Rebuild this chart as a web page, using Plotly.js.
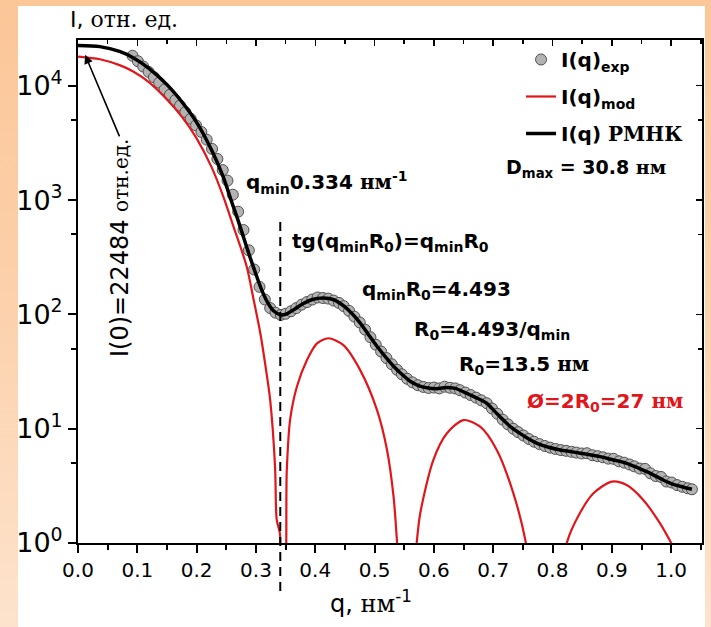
<!DOCTYPE html>
<html>
<head>
<meta charset="utf-8">
<script src="https://cdn.plot.ly/plotly-3.0.1.min.js"></script>
<style>
html,body{margin:0;padding:0;}
body{width:711px;height:627px;position:relative;overflow:hidden;
 background:linear-gradient(to bottom,#fbc698 0%,#fcd0aa 45%,#fde3cd 100%);}
#panel{position:absolute;left:18px;top:6px;width:687px;height:621px;background:#ffffff;}
#chart{position:absolute;left:0;top:0;width:711px;height:627px;}
#frame{position:absolute;left:76px;top:38px;width:628px;height:507px;box-sizing:border-box;
 border:2px solid #000;pointer-events:none;}
</style>
</head>
<body>
<div id="panel"></div>
<div id="chart"></div>
<div id="frame"></div>
<script>
// Experimental points I(q)exp
const q_exp = [0.092,0.101,0.110,0.119,0.128,0.137,0.146,0.155,0.164,0.172,0.181,0.190,0.199,0.208,0.217,0.226,0.235,0.244,0.252,0.261,0.270,0.279,0.288,0.297,0.306,0.315,0.324,0.333,0.342,0.350,0.359,0.368,0.377,0.386,0.395,0.404,0.413,0.422,0.431,0.440,0.448,0.457,0.466,0.475,0.484,0.493,0.502,0.511,0.520,0.529,0.538,0.546,0.555,0.564,0.573,0.582,0.591,0.600,0.609,0.618,0.627,0.636,0.644,0.653,0.662,0.671,0.680,0.689,0.698,0.707,0.716,0.725,0.734,0.742,0.751,0.760,0.769,0.778,0.787,0.796,0.805,0.814,0.823,0.832,0.840,0.849,0.858,0.867,0.876,0.885,0.894,0.903,0.912,0.921,0.930,0.938,0.947,0.956,0.965,0.974,0.983,0.992,1.001,1.010,1.019,1.028,1.035];
const I_exp = [18280,16370,14720,13240,11890,10640,9290,8340,7480,6700,5875,5140,4500,3945,3373,2800,2290,1828,1479,1114,791,547,363,247,174,135,113.5,103.5,98.9,101.2,106.4,113.5,121.6,128.2,134.9,140.5,139.0,137.4,132.0,125.9,118.0,107.2,95.5,84.9,73.5,63.1,54.3,47.3,41.5,36.6,32.7,29.9,27.3,25.4,24.0,23.2,22.7,22.9,22.5,23.3,22.8,22.5,21.7,20.7,19.7,18.7,17.7,16.7,15.0,13.5,12.0,10.9,9.98,9.33,8.71,8.13,7.69,7.33,7.06,6.82,6.65,6.50,6.40,6.28,6.18,6.07,6.10,5.86,5.75,5.62,5.47,5.45,5.18,5.04,4.86,4.68,4.48,4.45,4.07,3.85,3.78,3.45,3.38,3.21,3.10,3.01,2.95];

// Model curve I(q)mod (sphere)
const q_mod = [0,0.037,0.070,0.093,0.120,0.150,0.175,0.200,0.225,0.245,0.262,0.2845,0.296,0.3074,0.316,0.324,0.3322,0.335,0.3405,0.3425,0.3465,0.352,0.3575,0.369,0.386,0.403,0.422,0.447,0.4755,0.504,0.521,0.532,0.538,0.555,0.571,0.577,0.599,0.622,0.650,0.678,0.706,0.734,0.754,0.790,0.824,0.846,0.869,0.900,0.925,0.953,0.981,1.001];
const I_mod = [18000,17060,15140,13340,10720,7590,5370,3467,1950,1072,589,261,135,68.4,35.5,17.8,4.66,1.6,1.2,0.3,0.3,4.36,11.9,23.3,39.9,55.8,61.8,54.0,32.7,14.6,6.52,2.54,1.0,0.05,1.0,1.82,5.32,9.12,11.9,10.4,6.52,2.72,1.07,0.05,1.0,1.82,2.72,3.44,3.21,2.38,1.49,0.98];

// Regularised fit I(q) РМНК
const q_fit = [0,0.037,0.070,0.093,0.120,0.150,0.175,0.200,0.225,0.245,0.258,0.270,0.280,0.290,0.300,0.310,0.320,0.330,0.342,0.352,0.365,0.380,0.395,0.414,0.430,0.450,0.4755,0.490,0.504,0.518,0.532,0.546,0.560,0.575,0.588,0.605,0.622,0.636,0.650,0.670,0.689,0.703,0.717,0.731,0.745,0.760,0.774,0.795,0.813,0.830,0.847,0.865,0.880,0.900,0.925,0.945,0.965,0.985,1.000,1.020,1.035];
const I_fit = [22480,21980,19950,17580,14130,10230,7244,4786,2754,1585,1000,661,457,316,224,162,126,107,98.9,101.2,110.9,124.5,134.9,139.0,134.9,116.1,84.3,66.1,52.6,42.7,35.2,29.9,26.0,23.7,22.8,22.4,22.9,22.5,21.0,18.8,16.7,14.1,11.9,10.2,9.10,8.13,7.45,6.84,6.52,6.31,6.10,5.89,5.70,5.37,4.98,4.52,4.07,3.59,3.31,3.09,2.95];

// Axis ticks
const yTickVals = [1,10,100,1000,10000];
const yTickText = ['10<sup>0</sup>','10<sup>1</sup>','10<sup>2</sup>','10<sup>3</sup>','10<sup>4</sup>'];
const yMinorVals = [5,50,500,5000];

const SERIF = "font-family:'DejaVu Serif'";
const RED = '#e0161b';

const traces = [
  {x:q_exp, y:I_exp, type:'scatter', mode:'markers', name:'<b>I(q)<sub>exp</sub></b>', legendgroup:'a',
   marker:{symbol:'circle', size:11, color:'#b3b3b3', line:{color:'#505050', width:1}}},
  {x:q_mod, y:I_mod, type:'scatter', mode:'lines', name:'<b>I(q)<sub>mod</sub></b>', legendgroup:'b',
   line:{color:RED, width:2.2, shape:'spline', smoothing:0.8}},
  {x:q_fit, y:I_fit, type:'scatter', mode:'lines', name:'<b>I(q) <span style="'+SERIF+'">РМНК</span></b>', legendgroup:'c',
   line:{color:'#000', width:3.5, shape:'spline', smoothing:0.8}},
  // invisible traces so that the top and right frame axes (inside ticks) are drawn
  {x:[q_fit[0]], y:[I_fit[0]], type:'scatter', mode:'markers', xaxis:'x2', yaxis:'y', showlegend:false,
   hoverinfo:'skip', marker:{opacity:0, size:1}},
  {x:[q_fit[0]], y:[I_fit[0]], type:'scatter', mode:'markers', xaxis:'x', yaxis:'y2', showlegend:false,
   hoverinfo:'skip', marker:{opacity:0, size:1}}
];

const axCommon = {showgrid:false, zeroline:false, showline:true, linewidth:2, linecolor:'#000', tickcolor:'#000'};

const layout = {
  width:711, height:627,
  margin:{l:78, r:9, t:40, b:84},
  paper_bgcolor:'rgba(0,0,0,0)', plot_bgcolor:'rgba(0,0,0,0)',
  font:{family:'DejaVu Sans', color:'#000'},
  showlegend:true,
  legend:{x:0.71, xanchor:'left', y:1.0, yanchor:'top', bgcolor:'rgba(0,0,0,0)',
          font:{size:20, family:'DejaVu Sans'}, tracegroupgap:8, traceorder:'grouped'},
  xaxis:Object.assign({}, axCommon, {
    range:[0,1.052], ticks:'outside', ticklen:8, tickwidth:2, dtick:0.1, tick0:0, tickformat:'.1f',
    tickfont:{size:20}, mirror:true,
    minor:{ticks:'outside', ticklen:5, tickwidth:2, tickcolor:'#000', dtick:0.05, tick0:0},
    title:{text:'q, <span style="'+SERIF+'">нм</span><sup>-1</sup>&nbsp;&nbsp;&nbsp;&nbsp;&nbsp;', font:{size:24}, standoff:14}
  }),
  yaxis:Object.assign({}, axCommon, {
    type:'log', range:[0,4.4], ticks:'outside', ticklen:8, tickwidth:2, mirror:true,
    tickmode:'array', tickvals:yTickVals, ticktext:yTickText, tickfont:{size:27},
    minor:{tickmode:'array', tickvals:yMinorVals, ticks:'outside', ticklen:5, tickwidth:2, tickcolor:'#000'}
  }),
  xaxis2:Object.assign({}, axCommon, {
    overlaying:'x', side:'top', anchor:'y', range:[0,1.052], ticks:'inside', ticklen:6, tickwidth:1.5,
    dtick:0.1, tick0:0, showticklabels:false,
    minor:{ticks:'inside', ticklen:4, tickwidth:1.5, tickcolor:'#000', dtick:0.05, tick0:0}
  }),
  yaxis2:Object.assign({}, axCommon, {
    overlaying:'y', side:'right', anchor:'x', type:'log', range:[0,4.4], ticks:'inside', ticklen:6, tickwidth:1.5,
    tickmode:'array', tickvals:yTickVals, showticklabels:false,
    minor:{tickmode:'array', tickvals:yMinorVals, ticks:'inside', ticklen:4, tickwidth:1.5, tickcolor:'#000'}
  }),
  shapes:[
    {type:'line', xref:'x', yref:'paper', x0:0.341, x1:0.341, y0:0.638, y1:-0.099,
     line:{color:'#000', width:2, dash:'9px,6px'}}
  ],
  annotations:[
    {xref:'paper', yref:'paper', x:-0.016, y:1.040, xanchor:'left', yanchor:'middle', showarrow:false,
     text:'I, <span style="'+SERIF+'">отн. ед.</span>', font:{size:22}},
    {xref:'x', yref:'y', x:0.012, y:4.27, ax:35, ay:83, showarrow:true, arrowhead:2, arrowsize:1.1,
     arrowwidth:1.6, arrowcolor:'#000', text:''},
    {xref:'paper', yref:'paper', x:0.067, y:0.586, textangle:-90, xanchor:'center', yanchor:'middle', showarrow:false,
     text:'I(0)=22484 <span style="'+SERIF+';font-size:20px">отн.ед.</span>', font:{size:24}},
    {xref:'paper', yref:'paper', x:0.266, y:0.716, xanchor:'left', yanchor:'middle', showarrow:false,
     text:'<b>q<sub>min</sub>0.334 <span style="'+SERIF+'">нм</span><sup>-1</sup></b>', font:{size:20}},
    {xref:'paper', yref:'paper', x:0.340, y:0.598, xanchor:'left', yanchor:'middle', showarrow:false,
     text:'<b>tg(q<sub>min</sub>R<sub>0</sub>)=q<sub>min</sub>R<sub>0</sub></b>', font:{size:20}},
    {xref:'paper', yref:'paper', x:0.452, y:0.503, xanchor:'left', yanchor:'middle', showarrow:false,
     text:'<b>q<sub>min</sub>R<sub>0</sub>=4.493</b>', font:{size:20}},
    {xref:'paper', yref:'paper', x:0.535, y:0.423, xanchor:'left', yanchor:'middle', showarrow:false,
     text:'<b>R<sub>0</sub>=4.493/q<sub>min</sub></b>', font:{size:20}},
    {xref:'paper', yref:'paper', x:0.607, y:0.354, xanchor:'left', yanchor:'middle', showarrow:false,
     text:'<b>R<sub>0</sub>=13.5 <span style="'+SERIF+'">нм</span></b>', font:{size:20}},
    {xref:'paper', yref:'paper', x:0.716, y:0.280, xanchor:'left', yanchor:'middle', showarrow:false,
     text:'<b>Ø=2R<sub>0</sub>=27 <span style="'+SERIF+'">нм</span></b>', font:{size:20, color:RED}},
    {xref:'paper', yref:'paper', x:0.683, y:0.745, xanchor:'left', yanchor:'middle', showarrow:false,
     text:'<b>D<sub>max</sub> = 30.8 <span style="'+SERIF+'">нм</span></b>', font:{size:19}}
  ]
};

Plotly.newPlot('chart', traces, layout, {displayModeBar:false, staticPlot:true});
</script>
</body>
</html>
